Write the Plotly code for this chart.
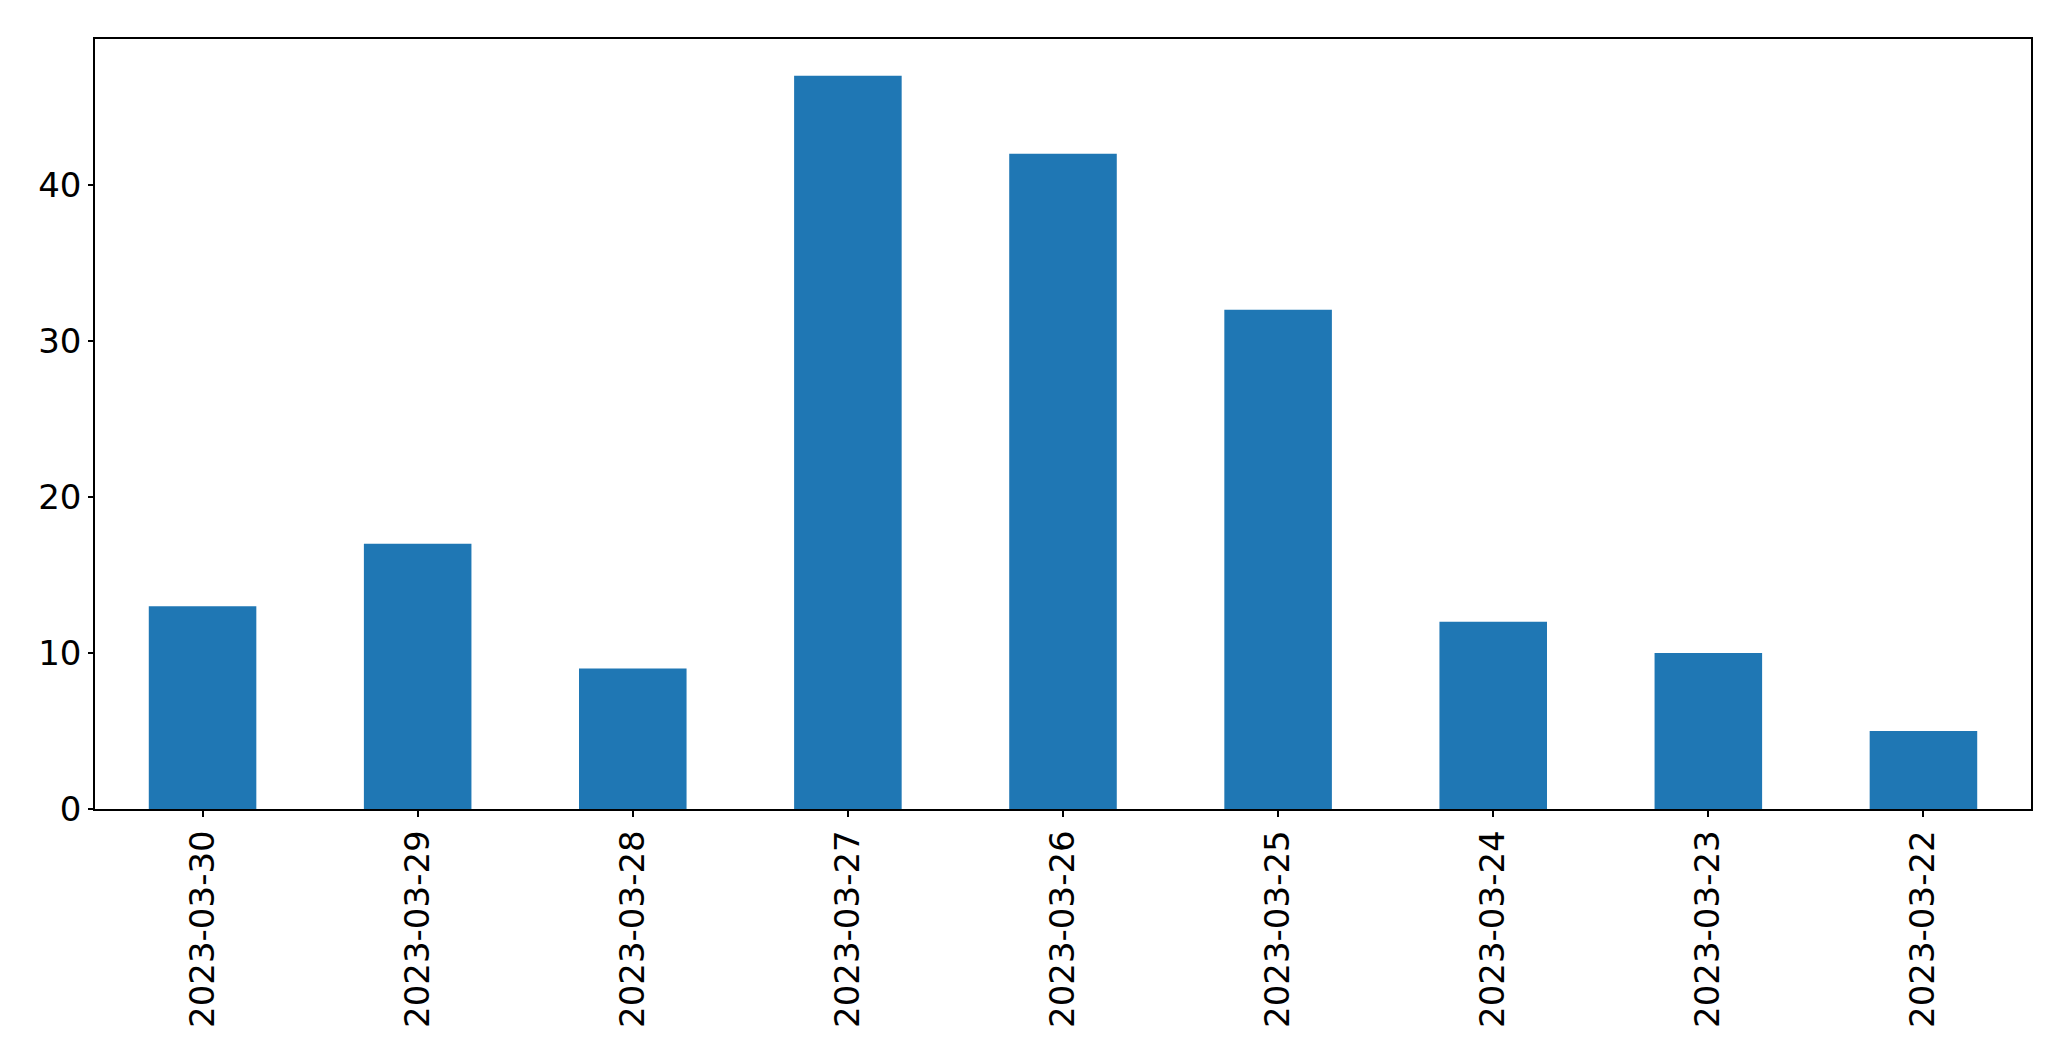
import plotly.graph_objects as go

dates = ["2023-03-30", "2023-03-29", "2023-03-28", "2023-03-27", "2023-03-26",
         "2023-03-25", "2023-03-24", "2023-03-23", "2023-03-22"]
counts = [13, 17, 9, 47, 42, 32, 12, 10, 5]
y_ticks = [0, 10, 20, 30, 40]

fig = go.Figure(go.Bar(x=dates, y=counts, marker=dict(color="#1f77b4", line=dict(width=0)), width=0.5))

fig.update_layout(
    width=2063, height=1053,
    margin=dict(l=87, r=40, t=31, b=252, autoexpand=False),
    plot_bgcolor="white", paper_bgcolor="white",
    font=dict(family="DejaVu Sans", size=34, color="black"),
    showlegend=False,
    bargap=0.5,
)
fig.update_xaxes(
    type="category", range=[-0.5, 8.5], tickangle=-90,
    showline=True, linecolor="black", linewidth=1.5, mirror=True,
    ticks="outside", ticklen=6, tickcolor="black", tickwidth=1.5,
    showgrid=False, zeroline=False, automargin=False,
)
fig.update_yaxes(
    range=[0, 49.35], tickvals=y_ticks,
    showline=True, linecolor="black", linewidth=1.5, mirror=True,
    ticks="outside", ticklen=5, tickcolor="black", tickwidth=1.5,
    showgrid=False, zeroline=False, automargin=False,
)
fig.write_html("out.html")
